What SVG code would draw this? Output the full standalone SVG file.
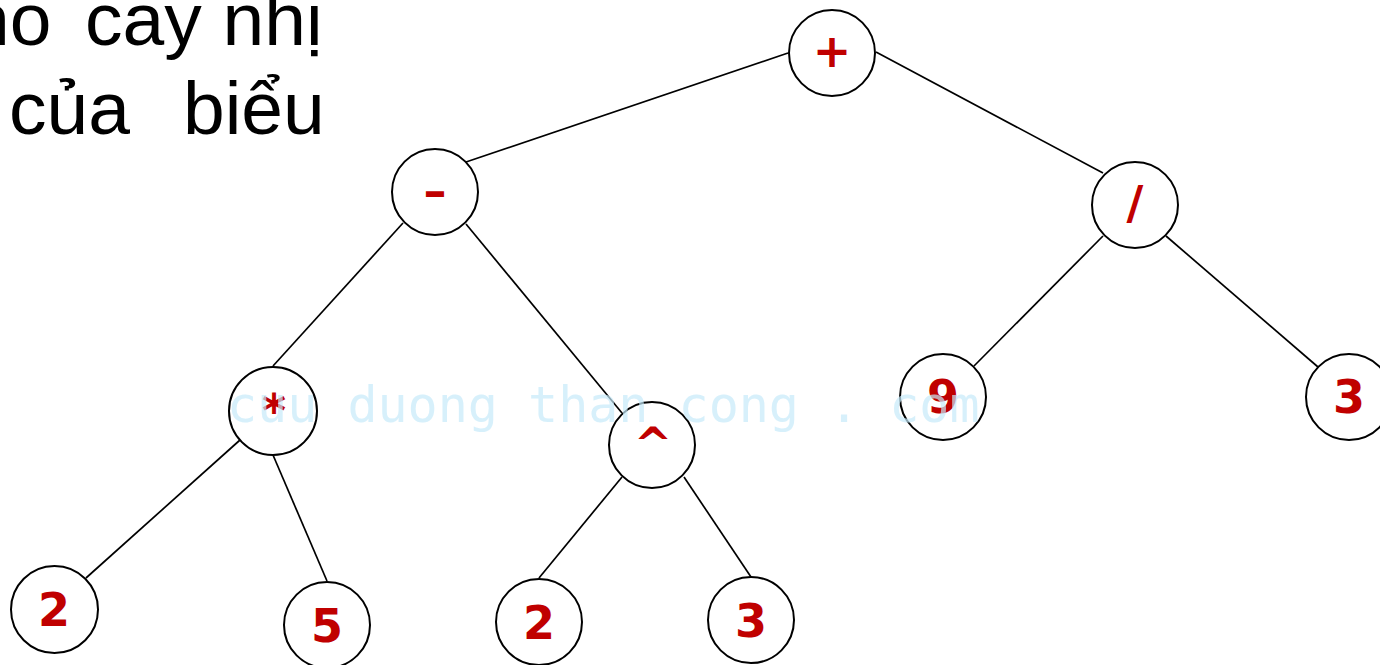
<svg xmlns="http://www.w3.org/2000/svg" width="1380" height="665" viewBox="0 0 1380 665">
<style>
.bg{fill:#ffffff}
.node circle{fill:#ffffff;stroke:#000000;stroke-width:2}
.node text{font-family:"DejaVu Sans",Verdana,sans-serif;font-weight:bold;font-size:46px;fill:#c00000;text-anchor:middle}
.edges line{stroke:#000000;stroke-width:1.7}
.title{font-family:"Liberation Sans",Arial,sans-serif;font-size:75px;fill:#000000}
.wm{font-family:"DejaVu Sans Mono",monospace;font-size:50px;fill:#c6eafa;fill-opacity:0.7}
</style>
<rect class="bg" x="0" y="0" width="1380" height="665"/>
<g id="title">
<text class="title" y="45"><tspan x="-32">ho</tspan><tspan x="85">cay nhị</tspan></text>
<text class="title" y="134"><tspan x="9">của</tspan><tspan x="183">biểu</tspan></text>
</g>
<g id="connectors" class="edges">
<line x1="788" y1="53" x2="466" y2="162"/>
<line x1="876" y1="52" x2="1103" y2="173"/>
<line x1="403" y1="223" x2="273" y2="366"/>
<line x1="466" y1="224" x2="622" y2="413"/>
<line x1="240" y1="440" x2="86" y2="578"/>
<line x1="273" y1="455" x2="327" y2="581"/>
<line x1="622" y1="477" x2="539" y2="578"/>
<line x1="684" y1="477" x2="751" y2="577"/>
<line x1="1103" y1="236" x2="974" y2="366"/>
<line x1="1166" y1="236" x2="1318" y2="367"/>
</g>
<g id="n-plus" class="node"><circle cx="832" cy="53" r="43"/><text x="832" y="67">+</text></g>
<g id="n-minus" class="node"><circle cx="435" cy="192" r="43"/><text x="435" y="207">–</text></g>
<g id="n-div" class="node"><circle cx="1135" cy="205" r="43"/><text x="1135" y="219">/</text></g>
<g id="n-mul" class="node"><circle cx="273" cy="411" r="44"/><text x="274" y="427">*</text></g>
<g id="n-pow" class="node"><circle cx="652" cy="445" r="43"/><text x="653" y="460">^</text></g>
<g id="n-9" class="node"><circle cx="943" cy="397" r="43"/><text x="943" y="413">9</text></g>
<g id="n-3r" class="node"><circle cx="1349" cy="397" r="43"/><text x="1349" y="413">3</text></g>
<g id="n-2l" class="node"><circle cx="54.5" cy="609.5" r="43.5"/><text x="54" y="626">2</text></g>
<g id="n-5" class="node"><circle cx="327" cy="625" r="43"/><text x="327" y="642">5</text></g>
<g id="n-2m" class="node"><circle cx="539" cy="622" r="43"/><text x="539" y="639">2</text></g>
<g id="n-3m" class="node"><circle cx="751" cy="620" r="43"/><text x="751" y="637">3</text></g>
<text class="wm" x="227" y="422">cuu duong than cong . com</text>
</svg>
